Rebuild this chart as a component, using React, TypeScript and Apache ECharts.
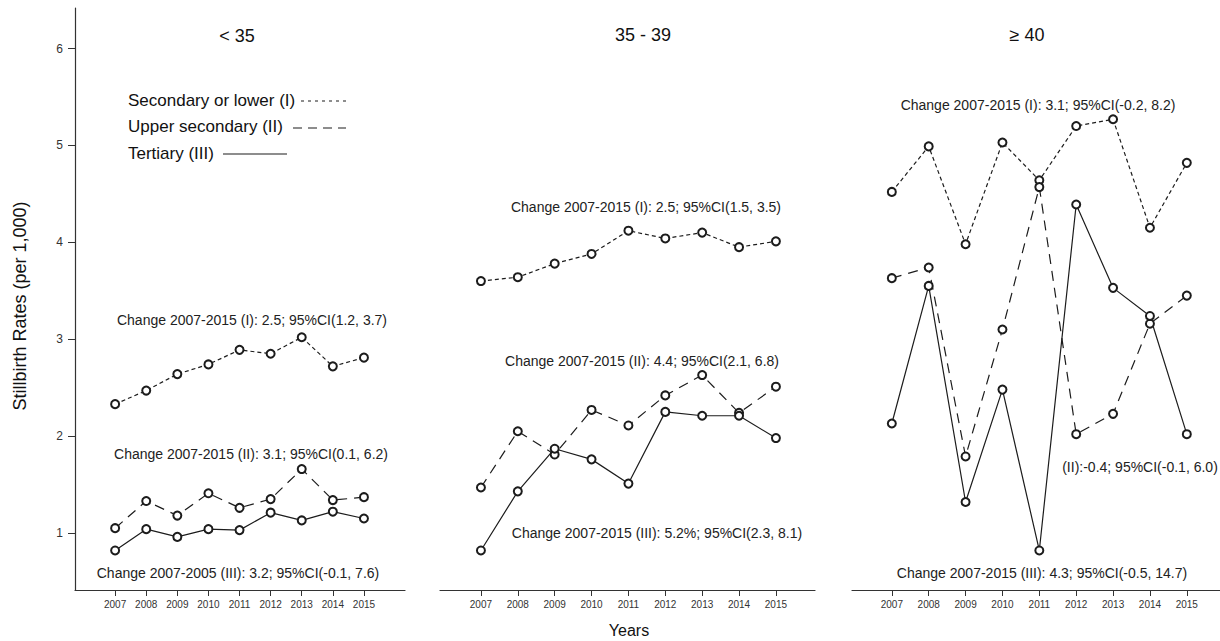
import React, { useEffect, useRef } from "react";
import * as echarts from "echarts";

const years = [2007, 2008, 2009, 2010, 2011, 2012, 2013, 2014, 2015];
const yTicks = [1, 2, 3, 4, 5, 6];

// < 35
const under35Secondary = [2.33, 2.47, 2.64, 2.74, 2.89, 2.85, 3.02, 2.72, 2.81];
const under35Upper = [1.05, 1.33, 1.18, 1.41, 1.26, 1.35, 1.66, 1.34, 1.37];
const under35Tertiary = [0.82, 1.04, 0.96, 1.04, 1.03, 1.21, 1.13, 1.22, 1.15];
// 35 - 39
const mid35Secondary = [3.6, 3.64, 3.78, 3.88, 4.12, 4.04, 4.1, 3.95, 4.01];
const mid35Upper = [1.47, 2.05, 1.81, 2.27, 2.11, 2.42, 2.63, 2.24, 2.51];
const mid35Tertiary = [0.82, 1.43, 1.87, 1.76, 1.51, 2.25, 2.21, 2.21, 1.98];
// >= 40
const over40Secondary = [4.52, 4.99, 3.98, 5.03, 4.64, 5.2, 5.27, 4.15, 4.82];
const over40Upper = [3.63, 3.74, 1.79, 3.1, 4.57, 2.02, 2.23, 3.16, 3.45];
const over40Tertiary = [2.13, 3.55, 1.32, 2.48, 0.82, 4.39, 3.53, 3.24, 2.02];

const panelTitles = ["< 35", "35 - 39", "\u2265 40"];
const legendLabels = ["Secondary or lower (I)", "Upper secondary (II)", "Tertiary (III)"];
const annotations = [
  "Change 2007-2015 (I): 2.5; 95%CI(1.2, 3.7)",
  "Change 2007-2015 (II): 3.1; 95%CI(0.1, 6.2)",
  "Change 2007-2005 (III): 3.2; 95%CI(-0.1, 7.6)",
  "Change 2007-2015 (I): 2.5; 95%CI(1.5, 3.5)",
  "Change 2007-2015 (II): 4.4; 95%CI(2.1, 6.8)",
  "Change 2007-2015 (III): 5.2%; 95%CI(2.3, 8.1)",
  "Change 2007-2015 (I): 3.1; 95%CI(-0.2, 8.2)",
  "(II):-0.4; 95%CI(-0.1, 6.0)",
  "Change 2007-2015 (III): 4.3; 95%CI(-0.5, 14.7)",
];

const FONT = "'Liberation Sans', Arial, Helvetica, sans-serif";
const INK = "#1c1c1c";
const DOT: number[] = [4, 3];
const DASH: number[] = [10, 7];

export default function App() {
  const ref = useRef<HTMLDivElement>(null);
  useEffect(() => {
    if (!ref.current) return;
    const chart = echarts.init(ref.current, undefined, { renderer: "svg" });

    const grids = [
      { left: 75, top: 8, width: 330, height: 582 },
      { left: 440, top: 8, width: 375, height: 582 },
      { left: 852, top: 8, width: 368, height: 582 },
    ];
    const xRanges = [
      [2005.71, 2016.32],
      [2005.89, 2016.06],
      [2005.92, 2015.9],
    ];
    const panels = [
      [under35Secondary, under35Upper, under35Tertiary],
      [mid35Secondary, mid35Upper, mid35Tertiary],
      [over40Secondary, over40Upper, over40Tertiary],
    ];
    const styles = [DOT, DASH, "solid"];

    const xAxis = xRanges.map((r, i) => ({
      type: "value",
      gridIndex: i,
      min: r[0],
      max: r[1],
      axisLine: { show: true, lineStyle: { color: "#333", width: 1.2 } },
      axisTick: { show: true, length: 6, customValues: years, lineStyle: { color: "#333", width: 1 } },
      axisLabel: {
        show: true,
        customValues: years,
        formatter: (v: number) => String(v),
        fontSize: 10,
        color: "#333",
        margin: 9,
        fontFamily: FONT,
      },
      splitLine: { show: false },
    }));

    const yAxis = [0, 1, 2].map((i) => ({
      type: "value",
      gridIndex: i,
      min: 0.412,
      max: 6.418,
      show: i === 0,
      axisLine: { show: true, lineStyle: { color: "#333", width: 1.2 } },
      axisTick: { show: true, length: 7, customValues: yTicks, lineStyle: { color: "#333", width: 1 } },
      axisLabel: {
        show: true,
        customValues: yTicks,
        formatter: (v: number) => String(v),
        fontSize: 12,
        color: "#333",
        margin: 12,
        fontFamily: FONT,
      },
      splitLine: { show: false },
    }));

    const series: any[] = [];
    panels.forEach((group, pi) => {
      group.forEach((vals, si) => {
        series.push({
          type: "line",
          name: legendLabels[si],
          xAxisIndex: pi,
          yAxisIndex: pi,
          data: years.map((y, k) => [y, vals[k]]),
          symbol: "emptyCircle",
          symbolSize: 8,
          lineStyle: { color: INK, width: 1.2, type: styles[si] },
          itemStyle: { color: INK, borderColor: INK, borderWidth: 1 },
          silent: true,
        });
      });
    });

    const annPos = [
      [252, 320], [251, 454], [238, 573],
      [646, 207], [642, 361], [657, 533],
      [1038, 105], [1140, 467], [1042, 573],
    ];
    const titlePos = [[237, 36], [643, 35], [1027, 35]];

    const graphic: any[] = [];
    panelTitles.forEach((t, i) => {
      graphic.push({
        type: "text",
        x: titlePos[i][0],
        y: titlePos[i][1],
        style: { text: t, font: `18px ${FONT}`, fill: "#111", align: "center", verticalAlign: "middle" },
      });
    });
    annotations.forEach((t, i) => {
      graphic.push({
        type: "text",
        x: annPos[i][0],
        y: annPos[i][1],
        style: { text: t, font: `14px ${FONT}`, fill: "#222", align: "center", verticalAlign: "middle" },
      });
    });
    // legend
    const legY = [100, 126, 153];
    legendLabels.forEach((t, i) => {
      graphic.push({
        type: "text",
        x: 128,
        y: legY[i],
        style: { text: t, font: `17px ${FONT}`, fill: "#111", align: "left", verticalAlign: "middle" },
      });
    });
    const legLines = [
      { x1: 301, x2: 350, y: 101, dash: [3, 4] },
      { x1: 293, x2: 346, y: 128, dash: [9, 6] },
      { x1: 223, x2: 287, y: 154, dash: null },
    ];
    legLines.forEach((l) => {
      graphic.push({
        type: "line",
        shape: { x1: l.x1, y1: l.y, x2: l.x2, y2: l.y },
        style: { stroke: INK, lineWidth: 1.2, lineDash: l.dash || undefined },
      });
    });
    graphic.push({
      type: "text",
      x: 20,
      y: 306,
      rotation: Math.PI / 2,
      style: { text: "Stillbirth Rates (per 1,000)", font: `18px ${FONT}`, fill: "#111", align: "center", verticalAlign: "middle" },
    });
    graphic.push({
      type: "text",
      x: 629,
      y: 630,
      style: { text: "Years", font: `16px ${FONT}`, fill: "#111", align: "center", verticalAlign: "middle" },
    });

    chart.setOption({
      animation: false,
      backgroundColor: "#fff",
      grid: grids,
      xAxis,
      yAxis,
      series,
      graphic,
    });
    return () => chart.dispose();
  }, []);
  return (
    <div
      ref={ref}
      style={{ position: "fixed", left: 0, top: 0, width: 1220, height: 641, background: "#fff" }}
    />
  );
}
